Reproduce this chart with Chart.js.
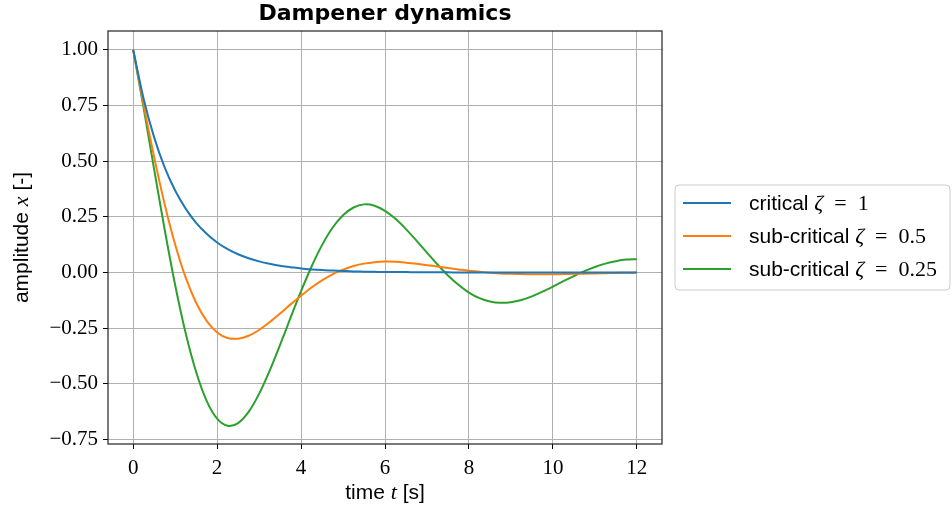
<!DOCTYPE html>
<html>
<head>
<meta charset="utf-8">
<script src="https://cdn.jsdelivr.net/npm/chart.js@4.4.1/dist/chart.umd.min.js"></script>
<style>
    html, body { margin: 0; padding: 0; background: #fff; }
</style>
</head>
<body>
<canvas id="dampChart" width="952" height="514"></canvas>
<script>
// time axis [s]
const timeS = [0, 0.25, 0.5, 0.75, 1, 1.25, 1.5, 1.75, 2, 2.25, 2.5, 2.75, 3, 3.25, 3.5, 3.75,
    4, 4.25, 4.5, 4.75, 5, 5.25, 5.5, 5.75, 6, 6.25, 6.5, 6.75, 7, 7.25, 7.5, 7.75,
    8, 8.25, 8.5, 8.75, 9, 9.25, 9.5, 9.75, 10, 10.25, 10.5, 10.75, 11, 11.25, 11.5, 11.75, 12];

// amplitude
const criticalZeta1 = [1.000, 0.779, 0.607, 0.472, 0.368, 0.287, 0.223, 0.174, 0.135, 0.105, 0.082, 0.064, 0.050, 0.039, 0.030, 0.024,
    0.018, 0.014, 0.011, 0.009, 0.007, 0.005, 0.004, 0.003, 0.002, 0.002, 0.002, 0.001, 0.001, 0.001, 0.001, 0.000,
    0.000, 0.000, 0.000, 0.000, 0.000, 0.000, 0.000, 0.000, 0.000, 0.000, 0.000, 0.000, 0.000, 0.000, 0.000, 0.000, 0.000];
const subCriticalZeta05 = [1.000, 0.752, 0.518, 0.307, 0.126, -0.022, -0.136, -0.217, -0.269, -0.294, -0.297, -0.284, -0.258, -0.223, -0.184, -0.143,
    -0.104, -0.067, -0.035, -0.008, 0.013, 0.029, 0.040, 0.046, 0.049, 0.048, 0.044, 0.039, 0.033, 0.027, 0.020, 0.014,
    0.008, 0.004, -0.001, -0.004, -0.006, -0.007, -0.008, -0.008, -0.008, -0.007, -0.006, -0.005, -0.004, -0.003, -0.002, -0.001, 0.000];
const subCriticalZeta025 = [1.000, 0.737, 0.463, 0.193, -0.056, -0.272, -0.447, -0.576, -0.656, -0.688, -0.676, -0.626, -0.545, -0.442, -0.325, -0.203,
    -0.084, 0.027, 0.123, 0.201, 0.257, 0.292, 0.306, 0.300, 0.277, 0.241, 0.195, 0.143, 0.089, 0.036, -0.013, -0.055,
    -0.090, -0.115, -0.130, -0.136, -0.133, -0.123, -0.107, -0.086, -0.063, -0.039, -0.016, 0.006, 0.025, 0.040, 0.051, 0.058, 0.060];

const xTickValues = [0, 2, 4, 6, 8, 10, 12];
const yTickValues = [-0.75, -0.5, -0.25, 0, 0.25, 0.5, 0.75, 1.0];

const seriesColors = ['#1f77b4', '#ff7f0e', '#2ca02c'];

const SANS = '"Liberation Sans", Arial, sans-serif';
const SERIF = '"Liberation Serif", "Times New Roman", serif';

const toPoints = (arr) => timeS.map((t, i) => ({ x: t, y: arr[i] }));

// legend entries, each split in sans text + math parts
const legendEntries = [
    [['critical ', 'sans'], ['ζ', 'it'], ['\u2002=\u2002', 'rm'], ['1', 'rm']],
    [['sub-critical ', 'sans'], ['ζ', 'it'], ['\u2002=\u2002', 'rm'], ['0.5', 'rm']],
    [['sub-critical ', 'sans'], ['ζ', 'it'], ['\u2002=\u2002', 'rm'], ['0.25', 'rm']]
];

function fontFor(kind) {
    if (kind === 'it') return 'italic 22px ' + SERIF;
    if (kind === 'rm') return '22px ' + SERIF;
    return '21px ' + SANS;
}

function richWidth(ctx, parts) {
    let w = 0;
    parts.forEach(([txt, kind]) => { ctx.font = fontFor(kind); w += ctx.measureText(txt).width; });
    return w;
}

function drawRich(ctx, parts, x, y) {
    let cx = x;
    parts.forEach(([txt, kind]) => {
        ctx.font = fontFor(kind);
        ctx.fillText(txt, cx, y);
        cx += ctx.measureText(txt).width;
    });
}

const decorPlugin = {
    id: 'decor',
    afterDraw(chart) {
        const ctx = chart.ctx;
        const a = chart.chartArea;
        ctx.save();

        // spines on all four sides
        ctx.strokeStyle = '#222';
        ctx.lineWidth = 1.2;
        ctx.strokeRect(a.left, a.top, a.right - a.left, a.bottom - a.top);

        ctx.fillStyle = '#000';
        ctx.textBaseline = 'alphabetic';
        ctx.textAlign = 'left';

        // title
        ctx.font = 'bold 22px "DejaVu Sans", sans-serif';
        ctx.textAlign = 'center';
        ctx.fillText('Dampener dynamics', (a.left + a.right) / 2, 20);
        ctx.textAlign = 'left';

        // x axis title
        const xParts = [['time ', 'sans'], ['t', 'it'], [' [s]', 'sans']];
        const xw = richWidth(ctx, xParts);
        drawRich(ctx, xParts, (a.left + a.right) / 2 - xw / 2, 499);

        // y axis title
        const yParts = [['amplitude ', 'sans'], ['x', 'it'], [' [-]', 'sans']];
        const yw = richWidth(ctx, yParts);
        ctx.save();
        ctx.translate(28, (a.top + a.bottom) / 2);
        ctx.rotate(-Math.PI / 2);
        drawRich(ctx, yParts, -yw / 2, 0);
        ctx.restore();

        // legend box
        const bx = 675, by = 185, bw = 275, bh = 105, r = 4;
        ctx.beginPath();
        ctx.moveTo(bx + r, by);
        ctx.arcTo(bx + bw, by, bx + bw, by + bh, r);
        ctx.arcTo(bx + bw, by + bh, bx, by + bh, r);
        ctx.arcTo(bx, by + bh, bx, by, r);
        ctx.arcTo(bx, by, bx + bw, by, r);
        ctx.closePath();
        ctx.fillStyle = 'rgba(255,255,255,0.8)';
        ctx.fill();
        ctx.strokeStyle = '#cccccc';
        ctx.lineWidth = 1;
        ctx.stroke();

        const rows = [203, 236, 269];
        legendEntries.forEach((parts, i) => {
            ctx.strokeStyle = seriesColors[i];
            ctx.lineWidth = 2;
            ctx.beginPath();
            ctx.moveTo(683, rows[i]);
            ctx.lineTo(731, rows[i]);
            ctx.stroke();
            ctx.fillStyle = '#000';
            drawRich(ctx, parts, 749, rows[i] + 7);
        });

        ctx.restore();
    }
};

const fmtY = (v) => {
    const s = Math.abs(v).toFixed(2);
    return v < 0 ? '\u2212' + s : s;
};

new Chart(document.getElementById('dampChart'), {
    type: 'line',
    data: {
        datasets: [
            { label: 'critical ζ = 1', data: toPoints(criticalZeta1), borderColor: seriesColors[0] },
            { label: 'sub-critical ζ = 0.5', data: toPoints(subCriticalZeta05), borderColor: seriesColors[1] },
            { label: 'sub-critical ζ = 0.25', data: toPoints(subCriticalZeta025), borderColor: seriesColors[2] }
        ]
    },
    options: {
        responsive: false,
        animation: false,
        devicePixelRatio: 1,
        layout: { padding: { top: 31, right: 290, bottom: 0, left: 0 } },
        elements: {
            point: { radius: 0 },
            line: { borderWidth: 2, tension: 0.3, fill: false }
        },
        scales: {
            x: {
                type: 'linear',
                min: -0.6,
                max: 12.6,
                afterBuildTicks: (scale) => { scale.ticks = xTickValues.map(v => ({ value: v })); },
                afterFit: (scale) => { scale.height = 70; },
                grid: { color: '#b0b0b0', lineWidth: 1, tickColor: '#000', tickLength: 5 },
                border: { display: false },
                ticks: {
                    color: '#000',
                    padding: 7,
                    maxRotation: 0,
                    font: { family: SERIF, size: 21 },
                    callback: (v) => String(v)
                }
            },
            y: {
                type: 'linear',
                min: -0.77,
                max: 1.0845,
                afterBuildTicks: (scale) => { scale.ticks = yTickValues.map(v => ({ value: v })); },
                afterFit: (scale) => { scale.width = 108; },
                grid: { color: '#b0b0b0', lineWidth: 1, tickColor: '#000', tickLength: 5 },
                border: { display: false },
                ticks: {
                    color: '#000',
                    padding: 5,
                    font: { family: SERIF, size: 21 },
                    callback: fmtY
                }
            }
        },
        plugins: {
            legend: { display: false },
            title: { display: false },
            tooltip: { enabled: false }
        }
    },
    plugins: [decorPlugin]
});
</script>
</body>
</html>
